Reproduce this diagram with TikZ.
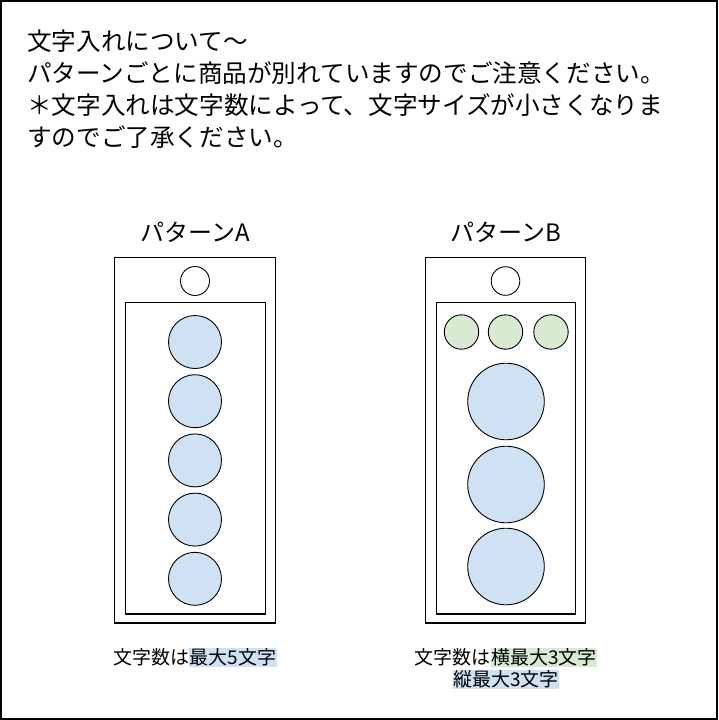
\documentclass[tikz,border=0pt]{standalone}
\usepackage{fontspec}
\setmainfont{Noto Sans CJK JP}
\definecolor{hlblue}{HTML}{CFE2F3}
\definecolor{hlgreen}{HTML}{D9EAD3}
\newcommand{\hlbox}[2]{{\setlength{\fboxsep}{0.5pt}\colorbox{#1}{#2}}}
\tikzset{
  frame/.style={draw=black, line width=2pt},
  card/.style={draw=black, line width=1.2pt},
  dot/.style={circle, draw=black, line width=0.9pt, inner sep=0pt, fill=white},
  bluedot/.style={dot, fill=hlblue},
  greendot/.style={dot, fill=hlgreen},
  title/.style={inner sep=0pt, font=\fontsize{24}{28}\selectfont},
  note/.style={inner sep=0pt, align=center, font=\fontsize{19}{22}\selectfont},
}
\begin{document}
\begin{tikzpicture}[x=1pt,y=-1pt]
\useasboundingbox (0,0) rectangle (718,720);
\draw[frame] (1,1) rectangle (717,719);

% top text
\node[inner sep=0pt, anchor=north west, align=left, font=\fontsize{24.6}{32}\selectfont] (intro) at (27,30)
 {文字入れについて～\\パターンごとに商品が別れていますのでご注意ください。\\＊文字入れは文字数によって、文字サイズが小さくなりま\\すのでご了承ください。};

% pattern A
\node[title, anchor=base] (titleA) at (195,241) {パターンA};
\draw[card] (114.5,257.5) rectangle (275.5,623);
\draw[card] (125.5,302.5) rectangle (265.5,614);
\node[dot, minimum size=29pt] (holeA) at (195,281) {};
\foreach \i/\yy in {1/342,2/401.2,3/460.4,4/519.6,5/578.8}
  \node[bluedot, minimum size=53pt] (a\i) at (195,\yy) {};
\node[note, anchor=north] (noteA) at (195,648) {文字数は\hlbox{hlblue}{最大5文字}};

% pattern B
\node[title, anchor=base] (titleB) at (506,241) {パターンB};
\draw[card] (425.5,257.5) rectangle (585.5,623);
\draw[card] (436.5,302.5) rectangle (575.5,614);
\node[dot, minimum size=28.6pt] (holeB) at (505.5,281) {};
\node[greendot, minimum size=34.4pt] (g1) at (461.5,332) {};
\node[greendot, minimum size=34.4pt] (g2) at (505.5,332) {};
\node[greendot, minimum size=34.4pt] (g3) at (551,332) {};
\foreach \i/\yy in {1/401.5,2/484.5,3/566.5}
  \node[bluedot, minimum size=76.6pt] (b\i) at (506,\yy) {};
\node[note, anchor=north] (noteB) at (506,648) {文字数は\hlbox{hlgreen}{横最大3文字}\\\hlbox{hlblue}{縦最大3文字}};
\end{tikzpicture}
\end{document}
